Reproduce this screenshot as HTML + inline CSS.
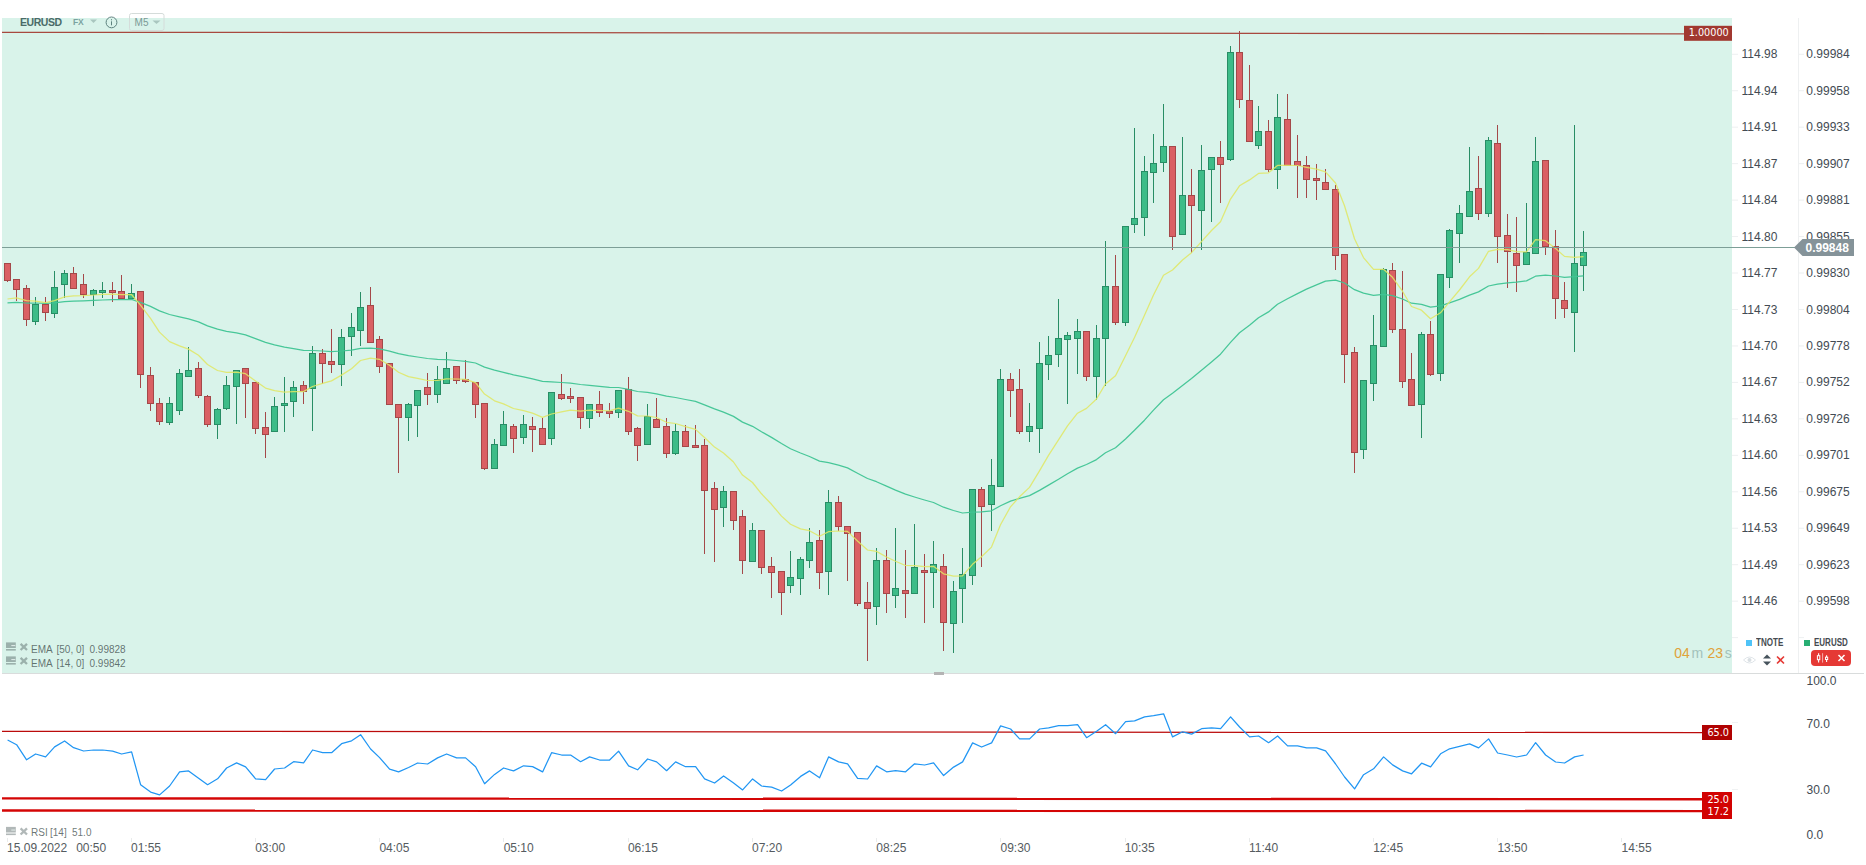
<!DOCTYPE html>
<html><head><meta charset="utf-8"><title>EURUSD M5</title><style>
html,body{margin:0;padding:0;background:#fff;}
body{width:1866px;height:865px;position:relative;overflow:hidden;font-family:"Liberation Sans",sans-serif;}
.t{position:absolute;white-space:nowrap;line-height:1;}
.ax{font-size:12px;color:#434b53;}
.tm{font-size:12px;color:#555b60;}
.ind{font-size:10px;color:rgba(50,65,65,0.72);}
.ind span{position:absolute;top:0;}
.dj{font-family:"DejaVu Sans","Liberation Sans",sans-serif;font-size:9.7px;color:#fff;}
</style></head><body>
<svg width="1866" height="865" viewBox="0 0 1866 865" style="position:absolute;left:0;top:0" shape-rendering="auto">
<rect x="2" y="18" width="1730" height="655" fill="#d9f3ea"/>
<rect x="2" y="673" width="1862" height="1" fill="#d9dcdc"/>
<rect x="1798" y="18" width="1" height="655" fill="#eef0f1"/>
<rect x="934" y="672" width="10" height="3" fill="#b4b4b4"/>
<rect x="1732" y="53.76" width="6" height="1" fill="#edf0f1"/>
<rect x="1799" y="53.76" width="5" height="1" fill="#edf0f1"/>
<rect x="1732" y="90.22" width="6" height="1" fill="#edf0f1"/>
<rect x="1799" y="90.22" width="5" height="1" fill="#edf0f1"/>
<rect x="1732" y="126.68" width="6" height="1" fill="#edf0f1"/>
<rect x="1799" y="126.68" width="5" height="1" fill="#edf0f1"/>
<rect x="1732" y="163.14" width="6" height="1" fill="#edf0f1"/>
<rect x="1799" y="163.14" width="5" height="1" fill="#edf0f1"/>
<rect x="1732" y="199.60" width="6" height="1" fill="#edf0f1"/>
<rect x="1799" y="199.60" width="5" height="1" fill="#edf0f1"/>
<rect x="1732" y="236.06" width="6" height="1" fill="#edf0f1"/>
<rect x="1799" y="236.06" width="5" height="1" fill="#edf0f1"/>
<rect x="1732" y="272.52" width="6" height="1" fill="#edf0f1"/>
<rect x="1799" y="272.52" width="5" height="1" fill="#edf0f1"/>
<rect x="1732" y="308.98" width="6" height="1" fill="#edf0f1"/>
<rect x="1799" y="308.98" width="5" height="1" fill="#edf0f1"/>
<rect x="1732" y="345.44" width="6" height="1" fill="#edf0f1"/>
<rect x="1799" y="345.44" width="5" height="1" fill="#edf0f1"/>
<rect x="1732" y="381.90" width="6" height="1" fill="#edf0f1"/>
<rect x="1799" y="381.90" width="5" height="1" fill="#edf0f1"/>
<rect x="1732" y="418.36" width="6" height="1" fill="#edf0f1"/>
<rect x="1799" y="418.36" width="5" height="1" fill="#edf0f1"/>
<rect x="1732" y="454.82" width="6" height="1" fill="#edf0f1"/>
<rect x="1799" y="454.82" width="5" height="1" fill="#edf0f1"/>
<rect x="1732" y="491.28" width="6" height="1" fill="#edf0f1"/>
<rect x="1799" y="491.28" width="5" height="1" fill="#edf0f1"/>
<rect x="1732" y="527.74" width="6" height="1" fill="#edf0f1"/>
<rect x="1799" y="527.74" width="5" height="1" fill="#edf0f1"/>
<rect x="1732" y="564.20" width="6" height="1" fill="#edf0f1"/>
<rect x="1799" y="564.20" width="5" height="1" fill="#edf0f1"/>
<rect x="1732" y="600.66" width="6" height="1" fill="#edf0f1"/>
<rect x="1799" y="600.66" width="5" height="1" fill="#edf0f1"/>
<rect x="1732" y="637.12" width="6" height="1" fill="#edf0f1"/>
<rect x="1799" y="637.12" width="5" height="1" fill="#edf0f1"/>
<rect x="1732" y="722" width="6" height="1" fill="#f0f2f3"/>
<rect x="1732" y="789" width="6" height="1" fill="#f0f2f3"/>
<rect x="7" y="838" width="1" height="4" fill="#e9ebeb"/>
<rect x="131" y="838" width="1" height="4" fill="#e9ebeb"/>
<rect x="255" y="838" width="1" height="4" fill="#e9ebeb"/>
<rect x="379" y="838" width="1" height="4" fill="#e9ebeb"/>
<rect x="503" y="838" width="1" height="4" fill="#e9ebeb"/>
<rect x="628" y="838" width="1" height="4" fill="#e9ebeb"/>
<rect x="752" y="838" width="1" height="4" fill="#e9ebeb"/>
<rect x="876" y="838" width="1" height="4" fill="#e9ebeb"/>
<rect x="1000" y="838" width="1" height="4" fill="#e9ebeb"/>
<rect x="1125" y="838" width="1" height="4" fill="#e9ebeb"/>
<rect x="1249" y="838" width="1" height="4" fill="#e9ebeb"/>
<rect x="1373" y="838" width="1" height="4" fill="#e9ebeb"/>
<rect x="1497" y="838" width="1" height="4" fill="#e9ebeb"/>
<rect x="1621" y="838" width="1" height="4" fill="#e9ebeb"/>
<line x1="2" y1="32.25" x2="1684" y2="33.8" stroke="#a8483f" stroke-width="1.25"/>
<g><rect x="7" y="263" width="1" height="19" fill="#a44849"/><rect x="4.5" y="263.5" width="6" height="17" fill="#da6064" stroke="#a44849" stroke-width="1"/><rect x="16" y="279" width="1" height="22" fill="#a44849"/><rect x="13.5" y="279.5" width="6" height="10" fill="#da6064" stroke="#a44849" stroke-width="1"/><rect x="26" y="285" width="1" height="41" fill="#a44849"/><rect x="23.5" y="288.5" width="6" height="31" fill="#da6064" stroke="#a44849" stroke-width="1"/><rect x="35" y="297" width="1" height="28" fill="#288d65"/><rect x="32.5" y="304.5" width="6" height="17" fill="#3dbc88" stroke="#288d65" stroke-width="1"/><rect x="45" y="297" width="1" height="24" fill="#a44849"/><rect x="42.5" y="304.5" width="6" height="8" fill="#da6064" stroke="#a44849" stroke-width="1"/><rect x="54" y="271" width="1" height="47" fill="#288d65"/><rect x="51.5" y="287.5" width="6" height="26" fill="#3dbc88" stroke="#288d65" stroke-width="1"/><rect x="64" y="270" width="1" height="28" fill="#288d65"/><rect x="61.5" y="273.5" width="6" height="11" fill="#3dbc88" stroke="#288d65" stroke-width="1"/><rect x="73" y="267" width="1" height="22" fill="#a44849"/><rect x="70.5" y="273.5" width="6" height="15" fill="#da6064" stroke="#a44849" stroke-width="1"/><rect x="83" y="274" width="1" height="24" fill="#a44849"/><rect x="80.5" y="284.5" width="6" height="10" fill="#da6064" stroke="#a44849" stroke-width="1"/><rect x="93" y="289" width="1" height="17" fill="#288d65"/><rect x="90.5" y="290.5" width="6" height="4" fill="#3dbc88" stroke="#288d65" stroke-width="1"/><rect x="102" y="282" width="1" height="16" fill="#288d65"/><rect x="99.5" y="290.5" width="6" height="2" fill="#3dbc88" stroke="#288d65" stroke-width="1"/><rect x="112" y="282" width="1" height="20" fill="#a44849"/><rect x="109.5" y="290.5" width="6" height="2" fill="#da6064" stroke="#a44849" stroke-width="1"/><rect x="121" y="275" width="1" height="24" fill="#a44849"/><rect x="118.5" y="291.5" width="6" height="7" fill="#da6064" stroke="#a44849" stroke-width="1"/><rect x="131" y="284" width="1" height="15" fill="#288d65"/><rect x="128.5" y="293.5" width="6" height="5" fill="#3dbc88" stroke="#288d65" stroke-width="1"/><rect x="140" y="291" width="1" height="97" fill="#a44849"/><rect x="137.5" y="291.5" width="6" height="83" fill="#da6064" stroke="#a44849" stroke-width="1"/><rect x="150" y="367" width="1" height="44" fill="#a44849"/><rect x="147.5" y="375.5" width="6" height="28" fill="#da6064" stroke="#a44849" stroke-width="1"/><rect x="159" y="398" width="1" height="27" fill="#a44849"/><rect x="156.5" y="403.5" width="6" height="18" fill="#da6064" stroke="#a44849" stroke-width="1"/><rect x="169" y="397" width="1" height="28" fill="#288d65"/><rect x="166.5" y="403.5" width="6" height="19" fill="#3dbc88" stroke="#288d65" stroke-width="1"/><rect x="179" y="369" width="1" height="46" fill="#288d65"/><rect x="176.5" y="373.5" width="6" height="37" fill="#3dbc88" stroke="#288d65" stroke-width="1"/><rect x="188" y="347" width="1" height="30" fill="#288d65"/><rect x="185.5" y="370.5" width="6" height="6" fill="#3dbc88" stroke="#288d65" stroke-width="1"/><rect x="198" y="362" width="1" height="36" fill="#a44849"/><rect x="195.5" y="368.5" width="6" height="27" fill="#da6064" stroke="#a44849" stroke-width="1"/><rect x="207" y="395" width="1" height="32" fill="#a44849"/><rect x="204.5" y="396.5" width="6" height="28" fill="#da6064" stroke="#a44849" stroke-width="1"/><rect x="217" y="408" width="1" height="31" fill="#288d65"/><rect x="214.5" y="409.5" width="6" height="15" fill="#3dbc88" stroke="#288d65" stroke-width="1"/><rect x="226" y="376" width="1" height="34" fill="#288d65"/><rect x="223.5" y="385.5" width="6" height="23" fill="#3dbc88" stroke="#288d65" stroke-width="1"/><rect x="236" y="370" width="1" height="54" fill="#288d65"/><rect x="233.5" y="370.5" width="6" height="16" fill="#3dbc88" stroke="#288d65" stroke-width="1"/><rect x="245" y="368" width="1" height="50" fill="#a44849"/><rect x="242.5" y="368.5" width="6" height="15" fill="#da6064" stroke="#a44849" stroke-width="1"/><rect x="255" y="382" width="1" height="52" fill="#a44849"/><rect x="252.5" y="382.5" width="6" height="46" fill="#da6064" stroke="#a44849" stroke-width="1"/><rect x="265" y="412" width="1" height="46" fill="#a44849"/><rect x="262.5" y="427.5" width="6" height="7" fill="#da6064" stroke="#a44849" stroke-width="1"/><rect x="274" y="397" width="1" height="35" fill="#288d65"/><rect x="271.5" y="406.5" width="6" height="25" fill="#3dbc88" stroke="#288d65" stroke-width="1"/><rect x="284" y="377" width="1" height="55" fill="#288d65"/><rect x="281.5" y="403.5" width="6" height="2" fill="#3dbc88" stroke="#288d65" stroke-width="1"/><rect x="293" y="381" width="1" height="36" fill="#288d65"/><rect x="290.5" y="387.5" width="6" height="14" fill="#3dbc88" stroke="#288d65" stroke-width="1"/><rect x="303" y="381" width="1" height="23" fill="#a44849"/><rect x="300.5" y="385.5" width="6" height="6" fill="#da6064" stroke="#a44849" stroke-width="1"/><rect x="312" y="346" width="1" height="85" fill="#288d65"/><rect x="309.5" y="353.5" width="6" height="35" fill="#3dbc88" stroke="#288d65" stroke-width="1"/><rect x="322" y="349" width="1" height="35" fill="#a44849"/><rect x="319.5" y="353.5" width="6" height="10" fill="#da6064" stroke="#a44849" stroke-width="1"/><rect x="331" y="329" width="1" height="44" fill="#a44849"/><rect x="328.5" y="361.5" width="6" height="3" fill="#da6064" stroke="#a44849" stroke-width="1"/><rect x="341" y="329" width="1" height="57" fill="#288d65"/><rect x="338.5" y="337.5" width="6" height="27" fill="#3dbc88" stroke="#288d65" stroke-width="1"/><rect x="351" y="313" width="1" height="43" fill="#288d65"/><rect x="348.5" y="327.5" width="6" height="9" fill="#3dbc88" stroke="#288d65" stroke-width="1"/><rect x="360" y="292" width="1" height="54" fill="#288d65"/><rect x="357.5" y="307.5" width="6" height="23" fill="#3dbc88" stroke="#288d65" stroke-width="1"/><rect x="370" y="287" width="1" height="56" fill="#a44849"/><rect x="367.5" y="305.5" width="6" height="37" fill="#da6064" stroke="#a44849" stroke-width="1"/><rect x="379" y="336" width="1" height="37" fill="#a44849"/><rect x="376.5" y="339.5" width="6" height="27" fill="#da6064" stroke="#a44849" stroke-width="1"/><rect x="389" y="363" width="1" height="42" fill="#a44849"/><rect x="386.5" y="363.5" width="6" height="41" fill="#da6064" stroke="#a44849" stroke-width="1"/><rect x="398" y="404" width="1" height="69" fill="#a44849"/><rect x="395.5" y="404.5" width="6" height="13" fill="#da6064" stroke="#a44849" stroke-width="1"/><rect x="408" y="403" width="1" height="38" fill="#288d65"/><rect x="405.5" y="404.5" width="6" height="13" fill="#3dbc88" stroke="#288d65" stroke-width="1"/><rect x="417" y="390" width="1" height="47" fill="#288d65"/><rect x="414.5" y="390.5" width="6" height="15" fill="#3dbc88" stroke="#288d65" stroke-width="1"/><rect x="427" y="373" width="1" height="32" fill="#a44849"/><rect x="424.5" y="387.5" width="6" height="7" fill="#da6064" stroke="#a44849" stroke-width="1"/><rect x="437" y="366" width="1" height="37" fill="#288d65"/><rect x="434.5" y="379.5" width="6" height="15" fill="#3dbc88" stroke="#288d65" stroke-width="1"/><rect x="446" y="352" width="1" height="32" fill="#288d65"/><rect x="443.5" y="368.5" width="6" height="15" fill="#3dbc88" stroke="#288d65" stroke-width="1"/><rect x="456" y="366" width="1" height="18" fill="#a44849"/><rect x="453.5" y="366.5" width="6" height="14" fill="#da6064" stroke="#a44849" stroke-width="1"/><rect x="465" y="360" width="1" height="23" fill="#a44849"/><rect x="462.5" y="379.5" width="6" height="2" fill="#da6064" stroke="#a44849" stroke-width="1"/><rect x="475" y="382" width="1" height="36" fill="#a44849"/><rect x="472.5" y="382.5" width="6" height="22" fill="#da6064" stroke="#a44849" stroke-width="1"/><rect x="484" y="403" width="1" height="67" fill="#a44849"/><rect x="481.5" y="403.5" width="6" height="65" fill="#da6064" stroke="#a44849" stroke-width="1"/><rect x="494" y="439" width="1" height="30" fill="#288d65"/><rect x="491.5" y="444.5" width="6" height="24" fill="#3dbc88" stroke="#288d65" stroke-width="1"/><rect x="503" y="411" width="1" height="35" fill="#288d65"/><rect x="500.5" y="424.5" width="6" height="21" fill="#3dbc88" stroke="#288d65" stroke-width="1"/><rect x="513" y="424" width="1" height="29" fill="#a44849"/><rect x="510.5" y="426.5" width="6" height="12" fill="#da6064" stroke="#a44849" stroke-width="1"/><rect x="523" y="415" width="1" height="29" fill="#288d65"/><rect x="520.5" y="424.5" width="6" height="13" fill="#3dbc88" stroke="#288d65" stroke-width="1"/><rect x="532" y="417" width="1" height="35" fill="#a44849"/><rect x="529.5" y="426.5" width="6" height="3" fill="#da6064" stroke="#a44849" stroke-width="1"/><rect x="542" y="418" width="1" height="27" fill="#a44849"/><rect x="539.5" y="428.5" width="6" height="16" fill="#da6064" stroke="#a44849" stroke-width="1"/><rect x="551" y="392" width="1" height="53" fill="#288d65"/><rect x="548.5" y="392.5" width="6" height="46" fill="#3dbc88" stroke="#288d65" stroke-width="1"/><rect x="561" y="374" width="1" height="26" fill="#a44849"/><rect x="558.5" y="394.5" width="6" height="4" fill="#da6064" stroke="#a44849" stroke-width="1"/><rect x="570" y="388" width="1" height="15" fill="#a44849"/><rect x="567.5" y="396.5" width="6" height="2" fill="#da6064" stroke="#a44849" stroke-width="1"/><rect x="580" y="397" width="1" height="32" fill="#a44849"/><rect x="577.5" y="397.5" width="6" height="20" fill="#da6064" stroke="#a44849" stroke-width="1"/><rect x="589" y="404" width="1" height="24" fill="#288d65"/><rect x="586.5" y="404.5" width="6" height="14" fill="#3dbc88" stroke="#288d65" stroke-width="1"/><rect x="599" y="391" width="1" height="26" fill="#a44849"/><rect x="596.5" y="404.5" width="6" height="8" fill="#da6064" stroke="#a44849" stroke-width="1"/><rect x="609" y="403" width="1" height="15" fill="#a44849"/><rect x="606.5" y="411.5" width="6" height="2" fill="#da6064" stroke="#a44849" stroke-width="1"/><rect x="618" y="390" width="1" height="28" fill="#288d65"/><rect x="615.5" y="390.5" width="6" height="22" fill="#3dbc88" stroke="#288d65" stroke-width="1"/><rect x="628" y="377" width="1" height="58" fill="#a44849"/><rect x="625.5" y="389.5" width="6" height="42" fill="#da6064" stroke="#a44849" stroke-width="1"/><rect x="637" y="427" width="1" height="34" fill="#a44849"/><rect x="634.5" y="428.5" width="6" height="17" fill="#da6064" stroke="#a44849" stroke-width="1"/><rect x="647" y="404" width="1" height="41" fill="#288d65"/><rect x="644.5" y="416.5" width="6" height="28" fill="#3dbc88" stroke="#288d65" stroke-width="1"/><rect x="656" y="398" width="1" height="30" fill="#a44849"/><rect x="653.5" y="419.5" width="6" height="8" fill="#da6064" stroke="#a44849" stroke-width="1"/><rect x="666" y="418" width="1" height="40" fill="#a44849"/><rect x="663.5" y="426.5" width="6" height="27" fill="#da6064" stroke="#a44849" stroke-width="1"/><rect x="675" y="424" width="1" height="31" fill="#288d65"/><rect x="672.5" y="431.5" width="6" height="22" fill="#3dbc88" stroke="#288d65" stroke-width="1"/><rect x="685" y="425" width="1" height="22" fill="#a44849"/><rect x="682.5" y="431.5" width="6" height="15" fill="#da6064" stroke="#a44849" stroke-width="1"/><rect x="695" y="425" width="1" height="23" fill="#a44849"/><rect x="692.5" y="445.5" width="6" height="2" fill="#da6064" stroke="#a44849" stroke-width="1"/><rect x="704" y="439" width="1" height="115" fill="#a44849"/><rect x="701.5" y="445.5" width="6" height="45" fill="#da6064" stroke="#a44849" stroke-width="1"/><rect x="714" y="482" width="1" height="80" fill="#a44849"/><rect x="711.5" y="488.5" width="6" height="21" fill="#da6064" stroke="#a44849" stroke-width="1"/><rect x="723" y="486" width="1" height="41" fill="#288d65"/><rect x="720.5" y="491.5" width="6" height="16" fill="#3dbc88" stroke="#288d65" stroke-width="1"/><rect x="733" y="491" width="1" height="39" fill="#a44849"/><rect x="730.5" y="491.5" width="6" height="29" fill="#da6064" stroke="#a44849" stroke-width="1"/><rect x="742" y="510" width="1" height="64" fill="#a44849"/><rect x="739.5" y="516.5" width="6" height="44" fill="#da6064" stroke="#a44849" stroke-width="1"/><rect x="752" y="523" width="1" height="39" fill="#288d65"/><rect x="749.5" y="530.5" width="6" height="31" fill="#3dbc88" stroke="#288d65" stroke-width="1"/><rect x="761" y="530" width="1" height="44" fill="#a44849"/><rect x="758.5" y="530.5" width="6" height="37" fill="#da6064" stroke="#a44849" stroke-width="1"/><rect x="771" y="557" width="1" height="41" fill="#a44849"/><rect x="768.5" y="566.5" width="6" height="6" fill="#da6064" stroke="#a44849" stroke-width="1"/><rect x="781" y="571" width="1" height="44" fill="#a44849"/><rect x="778.5" y="571.5" width="6" height="21" fill="#da6064" stroke="#a44849" stroke-width="1"/><rect x="790" y="551" width="1" height="42" fill="#288d65"/><rect x="787.5" y="577.5" width="6" height="8" fill="#3dbc88" stroke="#288d65" stroke-width="1"/><rect x="800" y="557" width="1" height="38" fill="#288d65"/><rect x="797.5" y="559.5" width="6" height="19" fill="#3dbc88" stroke="#288d65" stroke-width="1"/><rect x="809" y="528" width="1" height="40" fill="#288d65"/><rect x="806.5" y="542.5" width="6" height="18" fill="#3dbc88" stroke="#288d65" stroke-width="1"/><rect x="819" y="530" width="1" height="59" fill="#a44849"/><rect x="816.5" y="540.5" width="6" height="32" fill="#da6064" stroke="#a44849" stroke-width="1"/><rect x="828" y="490" width="1" height="105" fill="#288d65"/><rect x="825.5" y="502.5" width="6" height="69" fill="#3dbc88" stroke="#288d65" stroke-width="1"/><rect x="838" y="496" width="1" height="35" fill="#a44849"/><rect x="835.5" y="502.5" width="6" height="24" fill="#da6064" stroke="#a44849" stroke-width="1"/><rect x="847" y="526" width="1" height="55" fill="#a44849"/><rect x="844.5" y="526.5" width="6" height="7" fill="#da6064" stroke="#a44849" stroke-width="1"/><rect x="857" y="532" width="1" height="74" fill="#a44849"/><rect x="854.5" y="532.5" width="6" height="71" fill="#da6064" stroke="#a44849" stroke-width="1"/><rect x="867" y="582" width="1" height="79" fill="#a44849"/><rect x="864.5" y="602.5" width="6" height="6" fill="#da6064" stroke="#a44849" stroke-width="1"/><rect x="876" y="548" width="1" height="77" fill="#288d65"/><rect x="873.5" y="560.5" width="6" height="46" fill="#3dbc88" stroke="#288d65" stroke-width="1"/><rect x="886" y="550" width="1" height="63" fill="#a44849"/><rect x="883.5" y="560.5" width="6" height="33" fill="#da6064" stroke="#a44849" stroke-width="1"/><rect x="895" y="528" width="1" height="80" fill="#288d65"/><rect x="892.5" y="588.5" width="6" height="7" fill="#3dbc88" stroke="#288d65" stroke-width="1"/><rect x="905" y="550" width="1" height="68" fill="#a44849"/><rect x="902.5" y="590.5" width="6" height="3" fill="#da6064" stroke="#a44849" stroke-width="1"/><rect x="914" y="524" width="1" height="70" fill="#288d65"/><rect x="911.5" y="567.5" width="6" height="26" fill="#3dbc88" stroke="#288d65" stroke-width="1"/><rect x="924" y="554" width="1" height="69" fill="#a44849"/><rect x="921.5" y="570.5" width="6" height="2" fill="#da6064" stroke="#a44849" stroke-width="1"/><rect x="933" y="541" width="1" height="67" fill="#288d65"/><rect x="930.5" y="564.5" width="6" height="8" fill="#3dbc88" stroke="#288d65" stroke-width="1"/><rect x="943" y="554" width="1" height="97" fill="#a44849"/><rect x="940.5" y="566.5" width="6" height="56" fill="#da6064" stroke="#a44849" stroke-width="1"/><rect x="953" y="581" width="1" height="72" fill="#288d65"/><rect x="950.5" y="591.5" width="6" height="32" fill="#3dbc88" stroke="#288d65" stroke-width="1"/><rect x="962" y="548" width="1" height="75" fill="#288d65"/><rect x="959.5" y="574.5" width="6" height="14" fill="#3dbc88" stroke="#288d65" stroke-width="1"/><rect x="972" y="489" width="1" height="96" fill="#288d65"/><rect x="969.5" y="489.5" width="6" height="86" fill="#3dbc88" stroke="#288d65" stroke-width="1"/><rect x="981" y="487" width="1" height="80" fill="#a44849"/><rect x="978.5" y="489.5" width="6" height="17" fill="#da6064" stroke="#a44849" stroke-width="1"/><rect x="991" y="459" width="1" height="72" fill="#288d65"/><rect x="988.5" y="485.5" width="6" height="19" fill="#3dbc88" stroke="#288d65" stroke-width="1"/><rect x="1000" y="369" width="1" height="118" fill="#288d65"/><rect x="997.5" y="379.5" width="6" height="107" fill="#3dbc88" stroke="#288d65" stroke-width="1"/><rect x="1010" y="373" width="1" height="44" fill="#a44849"/><rect x="1007.5" y="379.5" width="6" height="11" fill="#da6064" stroke="#a44849" stroke-width="1"/><rect x="1019" y="369" width="1" height="65" fill="#a44849"/><rect x="1016.5" y="389.5" width="6" height="42" fill="#da6064" stroke="#a44849" stroke-width="1"/><rect x="1029" y="403" width="1" height="39" fill="#288d65"/><rect x="1026.5" y="426.5" width="6" height="5" fill="#3dbc88" stroke="#288d65" stroke-width="1"/><rect x="1039" y="342" width="1" height="111" fill="#288d65"/><rect x="1036.5" y="363.5" width="6" height="65" fill="#3dbc88" stroke="#288d65" stroke-width="1"/><rect x="1048" y="336" width="1" height="44" fill="#288d65"/><rect x="1045.5" y="355.5" width="6" height="9" fill="#3dbc88" stroke="#288d65" stroke-width="1"/><rect x="1058" y="299" width="1" height="68" fill="#288d65"/><rect x="1055.5" y="338.5" width="6" height="16" fill="#3dbc88" stroke="#288d65" stroke-width="1"/><rect x="1067" y="332" width="1" height="72" fill="#288d65"/><rect x="1064.5" y="335.5" width="6" height="4" fill="#3dbc88" stroke="#288d65" stroke-width="1"/><rect x="1077" y="319" width="1" height="55" fill="#288d65"/><rect x="1074.5" y="331.5" width="6" height="7" fill="#3dbc88" stroke="#288d65" stroke-width="1"/><rect x="1086" y="331" width="1" height="50" fill="#a44849"/><rect x="1083.5" y="331.5" width="6" height="45" fill="#da6064" stroke="#a44849" stroke-width="1"/><rect x="1096" y="325" width="1" height="75" fill="#288d65"/><rect x="1093.5" y="338.5" width="6" height="38" fill="#3dbc88" stroke="#288d65" stroke-width="1"/><rect x="1105" y="241" width="1" height="145" fill="#288d65"/><rect x="1102.5" y="286.5" width="6" height="52" fill="#3dbc88" stroke="#288d65" stroke-width="1"/><rect x="1115" y="255" width="1" height="70" fill="#a44849"/><rect x="1112.5" y="286.5" width="6" height="36" fill="#da6064" stroke="#a44849" stroke-width="1"/><rect x="1125" y="226" width="1" height="100" fill="#288d65"/><rect x="1122.5" y="226.5" width="6" height="96" fill="#3dbc88" stroke="#288d65" stroke-width="1"/><rect x="1134" y="128" width="1" height="105" fill="#288d65"/><rect x="1131.5" y="218.5" width="6" height="6" fill="#3dbc88" stroke="#288d65" stroke-width="1"/><rect x="1144" y="156" width="1" height="80" fill="#288d65"/><rect x="1141.5" y="171.5" width="6" height="46" fill="#3dbc88" stroke="#288d65" stroke-width="1"/><rect x="1153" y="134" width="1" height="69" fill="#288d65"/><rect x="1150.5" y="163.5" width="6" height="9" fill="#3dbc88" stroke="#288d65" stroke-width="1"/><rect x="1163" y="104" width="1" height="68" fill="#288d65"/><rect x="1160.5" y="146.5" width="6" height="16" fill="#3dbc88" stroke="#288d65" stroke-width="1"/><rect x="1172" y="146" width="1" height="104" fill="#a44849"/><rect x="1169.5" y="146.5" width="6" height="90" fill="#da6064" stroke="#a44849" stroke-width="1"/><rect x="1182" y="137" width="1" height="98" fill="#288d65"/><rect x="1179.5" y="195.5" width="6" height="39" fill="#3dbc88" stroke="#288d65" stroke-width="1"/><rect x="1191" y="169" width="1" height="84" fill="#a44849"/><rect x="1188.5" y="195.5" width="6" height="10" fill="#da6064" stroke="#a44849" stroke-width="1"/><rect x="1201" y="145" width="1" height="105" fill="#288d65"/><rect x="1198.5" y="170.5" width="6" height="40" fill="#3dbc88" stroke="#288d65" stroke-width="1"/><rect x="1211" y="157" width="1" height="65" fill="#288d65"/><rect x="1208.5" y="157.5" width="6" height="12" fill="#3dbc88" stroke="#288d65" stroke-width="1"/><rect x="1220" y="141" width="1" height="62" fill="#a44849"/><rect x="1217.5" y="157.5" width="6" height="7" fill="#da6064" stroke="#a44849" stroke-width="1"/><rect x="1230" y="46" width="1" height="115" fill="#288d65"/><rect x="1227.5" y="52.5" width="6" height="107" fill="#3dbc88" stroke="#288d65" stroke-width="1"/><rect x="1239" y="31" width="1" height="77" fill="#a44849"/><rect x="1236.5" y="52.5" width="6" height="47" fill="#da6064" stroke="#a44849" stroke-width="1"/><rect x="1249" y="65" width="1" height="77" fill="#a44849"/><rect x="1246.5" y="100.5" width="6" height="41" fill="#da6064" stroke="#a44849" stroke-width="1"/><rect x="1258" y="106" width="1" height="43" fill="#288d65"/><rect x="1255.5" y="131.5" width="6" height="14" fill="#3dbc88" stroke="#288d65" stroke-width="1"/><rect x="1268" y="120" width="1" height="52" fill="#a44849"/><rect x="1265.5" y="131.5" width="6" height="38" fill="#da6064" stroke="#a44849" stroke-width="1"/><rect x="1277" y="94" width="1" height="95" fill="#288d65"/><rect x="1274.5" y="117.5" width="6" height="52" fill="#3dbc88" stroke="#288d65" stroke-width="1"/><rect x="1287" y="94" width="1" height="72" fill="#a44849"/><rect x="1284.5" y="119.5" width="6" height="46" fill="#da6064" stroke="#a44849" stroke-width="1"/><rect x="1297" y="135" width="1" height="63" fill="#a44849"/><rect x="1294.5" y="161.5" width="6" height="4" fill="#da6064" stroke="#a44849" stroke-width="1"/><rect x="1306" y="156" width="1" height="42" fill="#a44849"/><rect x="1303.5" y="165.5" width="6" height="14" fill="#da6064" stroke="#a44849" stroke-width="1"/><rect x="1316" y="164" width="1" height="36" fill="#a44849"/><rect x="1313.5" y="178.5" width="6" height="2" fill="#da6064" stroke="#a44849" stroke-width="1"/><rect x="1325" y="169" width="1" height="21" fill="#a44849"/><rect x="1322.5" y="182.5" width="6" height="7" fill="#da6064" stroke="#a44849" stroke-width="1"/><rect x="1335" y="185" width="1" height="85" fill="#a44849"/><rect x="1332.5" y="189.5" width="6" height="66" fill="#da6064" stroke="#a44849" stroke-width="1"/><rect x="1344" y="254" width="1" height="129" fill="#a44849"/><rect x="1341.5" y="254.5" width="6" height="100" fill="#da6064" stroke="#a44849" stroke-width="1"/><rect x="1354" y="347" width="1" height="126" fill="#a44849"/><rect x="1351.5" y="352.5" width="6" height="100" fill="#da6064" stroke="#a44849" stroke-width="1"/><rect x="1363" y="380" width="1" height="79" fill="#288d65"/><rect x="1360.5" y="380.5" width="6" height="69" fill="#3dbc88" stroke="#288d65" stroke-width="1"/><rect x="1373" y="315" width="1" height="86" fill="#288d65"/><rect x="1370.5" y="345.5" width="6" height="38" fill="#3dbc88" stroke="#288d65" stroke-width="1"/><rect x="1383" y="268" width="1" height="79" fill="#288d65"/><rect x="1380.5" y="269.5" width="6" height="77" fill="#3dbc88" stroke="#288d65" stroke-width="1"/><rect x="1392" y="263" width="1" height="70" fill="#a44849"/><rect x="1389.5" y="270.5" width="6" height="59" fill="#da6064" stroke="#a44849" stroke-width="1"/><rect x="1402" y="271" width="1" height="117" fill="#a44849"/><rect x="1399.5" y="329.5" width="6" height="52" fill="#da6064" stroke="#a44849" stroke-width="1"/><rect x="1411" y="353" width="1" height="53" fill="#a44849"/><rect x="1408.5" y="379.5" width="6" height="26" fill="#da6064" stroke="#a44849" stroke-width="1"/><rect x="1421" y="332" width="1" height="106" fill="#288d65"/><rect x="1418.5" y="334.5" width="6" height="70" fill="#3dbc88" stroke="#288d65" stroke-width="1"/><rect x="1430" y="321" width="1" height="55" fill="#a44849"/><rect x="1427.5" y="334.5" width="6" height="40" fill="#da6064" stroke="#a44849" stroke-width="1"/><rect x="1440" y="274" width="1" height="107" fill="#288d65"/><rect x="1437.5" y="274.5" width="6" height="99" fill="#3dbc88" stroke="#288d65" stroke-width="1"/><rect x="1449" y="229" width="1" height="59" fill="#288d65"/><rect x="1446.5" y="230.5" width="6" height="47" fill="#3dbc88" stroke="#288d65" stroke-width="1"/><rect x="1459" y="205" width="1" height="58" fill="#288d65"/><rect x="1456.5" y="213.5" width="6" height="20" fill="#3dbc88" stroke="#288d65" stroke-width="1"/><rect x="1469" y="147" width="1" height="70" fill="#288d65"/><rect x="1466.5" y="191.5" width="6" height="25" fill="#3dbc88" stroke="#288d65" stroke-width="1"/><rect x="1478" y="156" width="1" height="64" fill="#a44849"/><rect x="1475.5" y="188.5" width="6" height="25" fill="#da6064" stroke="#a44849" stroke-width="1"/><rect x="1488" y="137" width="1" height="80" fill="#288d65"/><rect x="1485.5" y="140.5" width="6" height="73" fill="#3dbc88" stroke="#288d65" stroke-width="1"/><rect x="1497" y="125" width="1" height="138" fill="#a44849"/><rect x="1494.5" y="143.5" width="6" height="93" fill="#da6064" stroke="#a44849" stroke-width="1"/><rect x="1507" y="214" width="1" height="74" fill="#a44849"/><rect x="1504.5" y="235.5" width="6" height="16" fill="#da6064" stroke="#a44849" stroke-width="1"/><rect x="1516" y="217" width="1" height="75" fill="#a44849"/><rect x="1513.5" y="253.5" width="6" height="12" fill="#da6064" stroke="#a44849" stroke-width="1"/><rect x="1526" y="203" width="1" height="62" fill="#288d65"/><rect x="1523.5" y="252.5" width="6" height="12" fill="#3dbc88" stroke="#288d65" stroke-width="1"/><rect x="1535" y="137" width="1" height="117" fill="#288d65"/><rect x="1532.5" y="161.5" width="6" height="92" fill="#3dbc88" stroke="#288d65" stroke-width="1"/><rect x="1545" y="160" width="1" height="95" fill="#a44849"/><rect x="1542.5" y="160.5" width="6" height="86" fill="#da6064" stroke="#a44849" stroke-width="1"/><rect x="1555" y="230" width="1" height="89" fill="#a44849"/><rect x="1552.5" y="246.5" width="6" height="52" fill="#da6064" stroke="#a44849" stroke-width="1"/><rect x="1564" y="282" width="1" height="36" fill="#a44849"/><rect x="1561.5" y="300.5" width="6" height="8" fill="#da6064" stroke="#a44849" stroke-width="1"/><rect x="1574" y="125" width="1" height="227" fill="#288d65"/><rect x="1571.5" y="263.5" width="6" height="49" fill="#3dbc88" stroke="#288d65" stroke-width="1"/><rect x="1583" y="231" width="1" height="60" fill="#288d65"/><rect x="1580.5" y="252.5" width="6" height="13" fill="#3dbc88" stroke="#288d65" stroke-width="1"/></g>
<path d="M7.5,302.8 L16.5,302.3 L26.5,303.0 L35.5,303.0 L45.5,303.4 L54.5,302.8 L64.5,301.6 L73.5,301.1 L83.5,300.8 L93.5,300.4 L102.5,300.0 L112.5,299.7 L121.5,299.7 L131.5,299.4 L140.5,302.4 L150.5,306.4 L159.5,310.9 L169.5,314.5 L179.5,316.8 L188.5,318.9 L198.5,321.9 L207.5,325.9 L217.5,329.2 L226.5,331.4 L236.5,332.9 L245.5,334.9 L255.5,338.6 L265.5,342.3 L274.5,344.8 L284.5,347.1 L293.5,348.7 L303.5,350.4 L312.5,350.5 L322.5,351.0 L331.5,351.6 L341.5,351.0 L351.5,350.1 L360.5,348.4 L370.5,348.1 L379.5,348.9 L389.5,351.1 L398.5,353.7 L408.5,355.7 L417.5,357.0 L427.5,358.5 L437.5,359.3 L446.5,359.7 L456.5,360.5 L465.5,361.3 L475.5,363.0 L484.5,367.1 L494.5,370.1 L503.5,372.3 L513.5,374.9 L523.5,376.8 L532.5,378.9 L542.5,381.4 L551.5,381.9 L561.5,382.5 L570.5,383.2 L580.5,384.5 L589.5,385.3 L599.5,386.3 L609.5,387.4 L618.5,387.5 L628.5,389.3 L637.5,391.5 L647.5,392.4 L656.5,393.8 L666.5,396.2 L675.5,397.5 L685.5,399.5 L695.5,401.4 L704.5,404.9 L714.5,408.9 L723.5,412.2 L733.5,416.4 L742.5,422.1 L752.5,426.3 L761.5,431.8 L771.5,437.4 L781.5,443.5 L790.5,448.7 L800.5,453.0 L809.5,456.5 L819.5,461.1 L828.5,462.7 L838.5,465.2 L847.5,467.9 L857.5,473.2 L867.5,478.5 L876.5,481.7 L886.5,486.1 L895.5,490.1 L905.5,494.2 L914.5,497.0 L924.5,500.0 L933.5,502.5 L943.5,507.2 L953.5,510.5 L962.5,513.0 L972.5,512.1 L981.5,511.9 L991.5,510.8 L1000.5,505.7 L1010.5,501.1 L1019.5,498.4 L1029.5,495.6 L1039.5,490.4 L1048.5,485.1 L1058.5,479.3 L1067.5,473.7 L1077.5,468.1 L1086.5,464.5 L1096.5,459.6 L1105.5,452.8 L1115.5,447.7 L1125.5,439.0 L1134.5,430.3 L1144.5,420.2 L1153.5,410.1 L1163.5,399.7 L1172.5,393.3 L1182.5,385.5 L1191.5,378.5 L1201.5,370.3 L1211.5,362.0 L1220.5,354.2 L1230.5,342.4 L1239.5,332.8 L1249.5,325.3 L1258.5,317.7 L1268.5,311.9 L1277.5,304.3 L1287.5,298.8 L1297.5,293.6 L1306.5,289.1 L1316.5,284.9 L1325.5,281.1 L1335.5,280.1 L1344.5,283.0 L1354.5,289.7 L1363.5,293.2 L1373.5,295.3 L1383.5,294.3 L1392.5,295.6 L1402.5,299.0 L1411.5,303.2 L1421.5,304.4 L1430.5,307.2 L1440.5,305.9 L1449.5,302.9 L1459.5,299.4 L1469.5,295.1 L1478.5,291.9 L1488.5,286.0 L1497.5,284.1 L1507.5,282.8 L1516.5,282.1 L1526.5,280.9 L1535.5,276.2 L1545.5,275.1 L1555.5,276.0 L1564.5,277.3 L1574.5,276.7 L1583.5,275.8" fill="none" stroke="#3fc493" stroke-width="1.25" stroke-linejoin="round" opacity="0.95"/>
<path d="M7.5,299.0 L16.5,297.8 L26.5,300.7 L35.5,301.1 L45.5,302.7 L54.5,300.6 L64.5,296.9 L73.5,295.8 L83.5,295.7 L93.5,295.0 L102.5,294.3 L112.5,294.1 L121.5,294.7 L131.5,294.5 L140.5,305.2 L150.5,318.3 L159.5,332.1 L169.5,341.6 L179.5,345.8 L188.5,349.1 L198.5,355.3 L207.5,364.5 L217.5,370.5 L226.5,372.4 L236.5,372.1 L245.5,373.7 L255.5,381.0 L265.5,388.1 L274.5,390.6 L284.5,392.2 L293.5,391.6 L303.5,391.6 L312.5,386.5 L322.5,383.4 L331.5,380.9 L341.5,375.1 L351.5,368.7 L360.5,360.5 L370.5,358.1 L379.5,359.3 L389.5,365.3 L398.5,372.3 L408.5,376.6 L417.5,378.4 L427.5,380.5 L437.5,380.4 L446.5,378.8 L456.5,379.0 L465.5,379.3 L475.5,382.7 L484.5,394.1 L494.5,400.8 L503.5,403.9 L513.5,408.5 L523.5,410.6 L532.5,413.1 L542.5,417.3 L551.5,414.0 L561.5,411.9 L570.5,410.2 L580.5,411.1 L589.5,410.2 L599.5,410.5 L609.5,410.9 L618.5,408.2 L628.5,411.3 L637.5,415.9 L647.5,416.0 L656.5,417.5 L666.5,422.3 L675.5,423.5 L685.5,426.6 L695.5,429.4 L704.5,437.5 L714.5,447.1 L723.5,453.0 L733.5,462.0 L742.5,475.1 L752.5,482.5 L761.5,493.8 L771.5,504.3 L781.5,516.1 L790.5,524.2 L800.5,528.9 L809.5,530.7 L819.5,536.3 L828.5,531.7 L838.5,531.0 L847.5,531.4 L857.5,541.0 L867.5,550.0 L876.5,551.4 L886.5,557.0 L895.5,561.2 L905.5,565.5 L914.5,565.7 L924.5,566.6 L933.5,566.3 L943.5,573.8 L953.5,576.1 L962.5,575.9 L972.5,564.3 L981.5,556.7 L991.5,547.1 L1000.5,524.7 L1010.5,506.8 L1019.5,496.8 L1029.5,487.4 L1039.5,470.9 L1048.5,455.4 L1058.5,439.8 L1067.5,425.9 L1077.5,413.2 L1086.5,408.4 L1096.5,399.0 L1105.5,383.9 L1115.5,375.8 L1125.5,355.8 L1134.5,337.5 L1144.5,315.3 L1153.5,295.0 L1163.5,275.2 L1172.5,270.0 L1182.5,260.0 L1191.5,252.7 L1201.5,241.7 L1211.5,230.5 L1220.5,221.7 L1230.5,199.1 L1239.5,185.8 L1249.5,179.9 L1258.5,173.4 L1268.5,172.8 L1277.5,165.4 L1287.5,165.4 L1297.5,165.5 L1306.5,167.4 L1316.5,169.1 L1325.5,171.8 L1335.5,183.0 L1344.5,205.8 L1354.5,238.7 L1363.5,257.6 L1373.5,269.3 L1383.5,269.3 L1392.5,277.3 L1402.5,291.2 L1411.5,306.5 L1421.5,310.2 L1430.5,318.8 L1440.5,312.8 L1449.5,301.8 L1459.5,290.0 L1469.5,276.8 L1478.5,268.4 L1488.5,251.3 L1497.5,249.3 L1507.5,249.6 L1516.5,251.7 L1526.5,251.8 L1535.5,239.7 L1545.5,240.7 L1555.5,248.4 L1564.5,256.4 L1574.5,257.3 L1583.5,256.7" fill="none" stroke="#e0e765" stroke-width="1.25" stroke-linejoin="round" opacity="0.88"/>
<rect x="2" y="247" width="1796" height="1" fill="#7d9e97"/>
<rect x="1684" y="25.8" width="48" height="15" fill="#a13830"/>
<line x1="2" y1="731.25" x2="1702" y2="732.6" stroke="#bb0b0b" stroke-width="1.25"/>
<line x1="2" y1="798.4" x2="1702" y2="799.2" stroke="#d40505" stroke-width="2.4"/>
<line x1="2" y1="810.5" x2="1702" y2="811.1" stroke="#d40505" stroke-width="2.4"/>
<rect x="1702" y="725" width="30" height="15" fill="#b00202"/>
<rect x="1702" y="792" width="30" height="14" fill="#d20202"/>
<rect x="1702" y="805.5" width="30" height="13.5" fill="#d20202"/>
<path d="M7.6,740.0 L16.6,744.7 L26.6,759.8 L35.6,754.0 L45.6,756.8 L54.6,746.9 L64.6,741.0 L73.6,747.7 L83.6,751.0 L93.6,750.0 L102.6,750.0 L112.6,751.1 L121.6,754.0 L131.6,751.9 L140.6,784.7 L150.6,792.1 L159.6,794.9 L169.6,786.0 L179.6,771.9 L188.6,770.9 L198.6,778.3 L207.6,784.7 L217.6,778.8 L226.6,768.0 L236.6,762.9 L245.6,766.9 L255.6,778.8 L265.6,779.7 L274.6,769.0 L284.6,768.0 L293.6,761.7 L303.6,762.9 L312.6,750.0 L322.6,752.7 L331.6,752.7 L341.6,743.7 L351.6,740.8 L360.6,734.7 L370.6,749.0 L379.6,757.6 L389.6,769.1 L398.6,771.9 L408.6,767.5 L417.6,763.0 L427.6,764.0 L437.6,757.9 L446.6,754.0 L456.6,757.9 L465.6,757.9 L475.6,766.7 L484.6,783.8 L494.6,774.4 L503.6,768.0 L513.6,770.9 L523.6,765.8 L532.6,766.6 L542.6,771.9 L551.6,752.7 L561.6,755.0 L570.6,755.0 L580.6,761.7 L589.6,756.9 L599.6,760.0 L609.6,760.0 L618.6,751.1 L628.6,765.9 L637.6,769.8 L647.6,759.0 L656.6,761.9 L666.6,770.7 L675.6,761.9 L685.6,766.7 L695.6,766.7 L704.6,778.8 L714.6,783.0 L723.6,775.9 L733.6,783.1 L742.6,789.9 L752.6,778.9 L761.6,786.0 L771.6,787.1 L781.6,791.0 L790.6,784.9 L800.6,776.4 L809.6,770.9 L819.6,777.8 L828.6,756.9 L838.6,761.9 L847.6,763.8 L857.6,778.3 L867.6,779.0 L876.6,765.9 L886.6,771.8 L895.6,770.7 L905.6,771.8 L914.6,763.8 L924.6,765.0 L933.6,762.8 L943.6,775.6 L953.6,767.1 L962.6,761.9 L972.6,742.9 L981.6,747.0 L991.6,742.9 L1000.6,725.9 L1010.6,729.0 L1019.6,738.9 L1029.6,738.9 L1039.6,729.0 L1048.6,727.8 L1058.6,725.6 L1067.6,725.6 L1077.6,724.7 L1086.6,737.7 L1096.6,731.3 L1105.6,724.7 L1115.6,733.7 L1125.6,721.7 L1134.6,720.9 L1144.6,716.8 L1153.6,715.7 L1163.6,713.8 L1172.6,736.9 L1182.6,731.8 L1191.6,734.1 L1201.6,728.7 L1211.6,727.8 L1220.6,728.7 L1230.6,716.8 L1239.6,727.0 L1249.6,736.9 L1258.6,736.0 L1268.6,742.7 L1277.6,736.0 L1287.6,745.9 L1297.6,745.9 L1306.6,747.9 L1316.6,747.9 L1325.6,750.9 L1335.6,764.0 L1344.6,777.0 L1354.6,788.9 L1363.6,774.7 L1373.6,768.8 L1383.6,756.9 L1392.6,764.9 L1402.6,770.9 L1411.6,773.8 L1421.6,763.2 L1430.6,766.8 L1440.6,753.8 L1449.6,748.8 L1459.6,746.4 L1469.6,743.9 L1478.6,747.9 L1488.6,738.9 L1497.6,753.0 L1507.6,755.0 L1516.6,757.0 L1526.6,755.0 L1535.6,742.7 L1545.6,755.0 L1555.6,762.0 L1564.6,763.0 L1574.6,756.9 L1583.6,755.0" fill="none" stroke="#2196f3" stroke-width="1.25" stroke-linejoin="round"/>
</svg>
<div class="t" style="left:20px;top:16.8px;font-size:10.5px;font-weight:bold;color:#4a6b68;letter-spacing:-0.45px">EURUSD</div>
<div class="t" style="left:73px;top:18px;font-size:8.5px;font-weight:bold;color:#7ba39f;letter-spacing:-0.3px">FX</div>
<div class="t" style="left:134.6px;top:18.2px;font-size:10px;color:#7b9a96">M5</div>
<div class="t ax" style="left:1741.5px;top:48.0px">114.98</div>
<div class="t ax" style="left:1806.3px;top:48.0px">0.99984</div>
<div class="t ax" style="left:1741.5px;top:85.0px">114.94</div>
<div class="t ax" style="left:1806.3px;top:85.0px">0.99958</div>
<div class="t ax" style="left:1741.5px;top:121.0px">114.91</div>
<div class="t ax" style="left:1806.3px;top:121.0px">0.99933</div>
<div class="t ax" style="left:1741.5px;top:158.0px">114.87</div>
<div class="t ax" style="left:1806.3px;top:158.0px">0.99907</div>
<div class="t ax" style="left:1741.5px;top:194.0px">114.84</div>
<div class="t ax" style="left:1806.3px;top:194.0px">0.99881</div>
<div class="t ax" style="left:1741.5px;top:231.0px">114.80</div>
<div class="t ax" style="left:1806.3px;top:231.0px">0.99855</div>
<div class="t ax" style="left:1741.5px;top:267.0px">114.77</div>
<div class="t ax" style="left:1806.3px;top:267.0px">0.99830</div>
<div class="t ax" style="left:1741.5px;top:304.0px">114.73</div>
<div class="t ax" style="left:1806.3px;top:304.0px">0.99804</div>
<div class="t ax" style="left:1741.5px;top:340.0px">114.70</div>
<div class="t ax" style="left:1806.3px;top:340.0px">0.99778</div>
<div class="t ax" style="left:1741.5px;top:376.0px">114.67</div>
<div class="t ax" style="left:1806.3px;top:376.0px">0.99752</div>
<div class="t ax" style="left:1741.5px;top:413.0px">114.63</div>
<div class="t ax" style="left:1806.3px;top:413.0px">0.99726</div>
<div class="t ax" style="left:1741.5px;top:449.0px">114.60</div>
<div class="t ax" style="left:1806.3px;top:449.0px">0.99701</div>
<div class="t ax" style="left:1741.5px;top:486.0px">114.56</div>
<div class="t ax" style="left:1806.3px;top:486.0px">0.99675</div>
<div class="t ax" style="left:1741.5px;top:522.0px">114.53</div>
<div class="t ax" style="left:1806.3px;top:522.0px">0.99649</div>
<div class="t ax" style="left:1741.5px;top:559.0px">114.49</div>
<div class="t ax" style="left:1806.3px;top:559.0px">0.99623</div>
<div class="t ax" style="left:1741.5px;top:595.0px">114.46</div>
<div class="t ax" style="left:1806.3px;top:595.0px">0.99598</div>
<div class="t ax" style="left:1806.5px;top:675.0px">100.0</div>
<div class="t ax" style="left:1806.5px;top:718.3px">70.0</div>
<div class="t ax" style="left:1806.5px;top:783.9px">30.0</div>
<div class="t ax" style="left:1806.5px;top:829.0px">0.0</div>
<div class="t tm" style="left:7.1px;top:841.8px">15.09.2022<span style="margin-left:9px">00:50</span></div>
<div class="t tm" style="left:131.0px;top:841.8px">01:55</div>
<div class="t tm" style="left:255.2px;top:841.8px">03:00</div>
<div class="t tm" style="left:379.4px;top:841.8px">04:05</div>
<div class="t tm" style="left:503.7px;top:841.8px">05:10</div>
<div class="t tm" style="left:627.9px;top:841.8px">06:15</div>
<div class="t tm" style="left:752.1px;top:841.8px">07:20</div>
<div class="t tm" style="left:876.3px;top:841.8px">08:25</div>
<div class="t tm" style="left:1000.5px;top:841.8px">09:30</div>
<div class="t tm" style="left:1124.7px;top:841.8px">10:35</div>
<div class="t tm" style="left:1249.0px;top:841.8px">11:40</div>
<div class="t tm" style="left:1373.2px;top:841.8px">12:45</div>
<div class="t tm" style="left:1497.4px;top:841.8px">13:50</div>
<div class="t tm" style="left:1621.6px;top:841.8px">14:55</div>
<div class="t ind" style="left:0;top:645px;width:200px;height:12px"><span style="left:31px">EMA</span><span style="left:56.5px">[50, 0]</span><span style="left:89.5px">0.99828</span></div>
<div class="t ind" style="left:0;top:659px;width:200px;height:12px"><span style="left:31px">EMA</span><span style="left:56.5px">[14, 0]</span><span style="left:89.5px">0.99842</span></div>
<div class="t ind" style="left:0;top:828px;width:200px;height:12px"><span style="left:31px">RSI</span><span style="left:50px">[14]</span><span style="left:72px">51.0</span></div>
<div class="t dj" style="left:1688.7px;top:27.6px">1.00000</div>
<div class="t dj" style="left:1707.4px;top:727.6px">65.0</div>
<div class="t dj" style="left:1707.4px;top:794.5px">25.0</div>
<div class="t dj" style="left:1707.4px;top:807.4px">17.2</div>
<div class="t" style="left:1674.3px;top:645.5px;font-size:14px;color:#e0a23a;width:60px;height:14px">04<span style="position:absolute;left:17.3px;top:0;color:#a3c2bb">m</span><span style="position:absolute;left:33.1px;top:0">23</span><span style="position:absolute;left:50.5px;top:0;color:#a3c2bb">s</span></div>
<div class="t" style="left:1756.2px;top:638px;font-size:10px;font-weight:bold;color:#454b50;transform:scaleX(0.805);transform-origin:0 0">TNOTE</div>
<div class="t" style="left:1814px;top:638px;font-size:10px;font-weight:bold;color:#454b50;transform:scaleX(0.80);transform-origin:0 0">EURUSD</div>
<svg width="1866" height="865" viewBox="0 0 1866 865" style="position:absolute;left:0;top:0">
<path d="M90,19.5 L97,19.5 L93.5,23 Z" fill="#a9c6bf"/>
<circle cx="111.5" cy="22.4" r="5.4" fill="none" stroke="#5d827e" stroke-width="1"/>
<rect x="111" y="21.3" width="1" height="4" fill="#5d827e"/><rect x="111" y="19.2" width="1" height="1.1" fill="#5d827e"/>
<rect x="129.5" y="13.5" width="34.5" height="17" rx="2" fill="none" stroke="#d5dcda" stroke-width="1"/>
<path d="M152.5,20.5 L160.5,20.5 L156.5,24 Z" fill="#a9c6bf"/>
<rect x="1746" y="640" width="6" height="6" fill="#4fc3f7"/>
<rect x="1804" y="640" width="6" height="6" fill="#27ae73"/>
<path d="M1743.5,660 Q1749.5,654 1755.5,660 Q1749.5,666 1743.5,660 Z" fill="none" stroke="#dbe2e6" stroke-width="0.9"/><circle cx="1749.5" cy="660" r="2" fill="#d9dfe3"/>
<path d="M1763,658.5 L1767,654.5 L1771,658.5 Z M1763,661.5 L1767,665.5 L1771,661.5 Z" fill="#46535c"/>
<path d="M1777,656.5 L1784,663.5 M1784,656.5 L1777,663.5" stroke="#e53935" stroke-width="1.6" fill="none"/>
<rect x="1811" y="650" width="40" height="16" rx="4" fill="#e53935"/>
<g stroke="#fff" stroke-width="1" fill="#e53935"><path d="M1818.6,653.2 V662.6 M1826.6,655.3 V661.9" stroke-width="1.1"/><path d="M1822.6,653.2 V662.6" stroke-opacity="0.6"/><rect x="1817.4" y="655.7" width="2.4" height="4"/><rect x="1825.5" y="657.2" width="2.2" height="2.3"/></g>
<path d="M1838.5,655 L1844.5,661 M1844.5,655 L1838.5,661" stroke="#fff" stroke-width="1.5" fill="none"/>
<path d="M1794,247.5 L1802.5,239 L1854,239 L1854,256 L1802.5,256 Z" fill="#859399"/>
<rect x="6" y="642.4" width="9.8" height="5.6" fill="rgba(70,85,85,0.42)"/><rect x="11.3" y="645" width="4" height="1.1" fill="#e9f3f0" opacity="0.85"/><rect x="6" y="649" width="9.8" height="1.6" fill="rgba(70,85,85,0.42)"/>
<path d="M20.6,643.8 L27,650 M27,643.8 L20.6,650" stroke="rgba(70,85,85,0.42)" stroke-width="2.3" fill="none"/>
<rect x="6" y="656.4" width="9.8" height="5.6" fill="rgba(70,85,85,0.42)"/><rect x="11.3" y="659" width="4" height="1.1" fill="#e9f3f0" opacity="0.85"/><rect x="6" y="663" width="9.8" height="1.6" fill="rgba(70,85,85,0.42)"/>
<path d="M20.6,657.8 L27,664 M27,657.8 L20.6,664" stroke="rgba(70,85,85,0.42)" stroke-width="2.3" fill="none"/>
<rect x="6" y="826.9" width="9.8" height="5.6" fill="rgba(70,85,85,0.42)"/><rect x="11.3" y="829.5" width="4" height="1.1" fill="#e9f3f0" opacity="0.85"/><rect x="6" y="833.5" width="9.8" height="1.6" fill="rgba(70,85,85,0.42)"/>
<path d="M20.6,828.3 L27,834.5 M27,828.3 L20.6,834.5" stroke="rgba(70,85,85,0.42)" stroke-width="2.3" fill="none"/>
</svg>
<div class="t" style="left:1805.5px;top:241.5px;font-size:12px;font-weight:bold;color:#fff">0.99848</div>
</body></html>
